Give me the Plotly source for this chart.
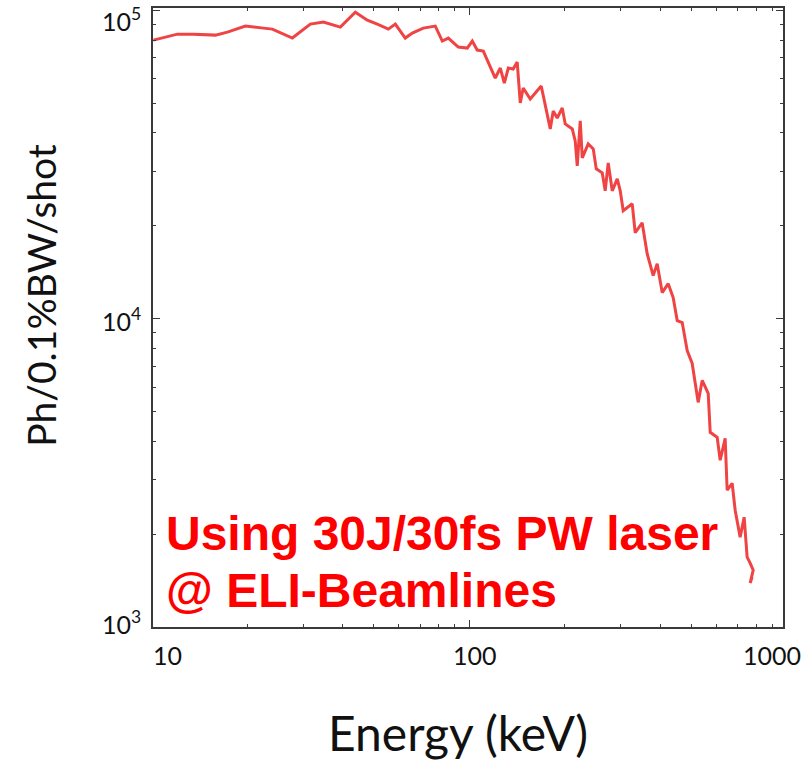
import math
import plotly.graph_objects as go

# Energy (keV) and photon number (Ph/0.1%BW/shot)
energy_kev = [10.15, 12.07, 13.56, 15.90, 17.34, 19.75, 22.50, 24.02, 27.76, 31.62,
              34.75, 39.30, 43.81, 47.78, 51.37, 55.64, 58.53, 62.90, 66.19, 71.65,
              78.18, 82.25, 85.90, 92.35, 98.56, 102.2, 105.9, 110.7, 120.7, 125.2,
              128.9, 132.7, 137.5, 141.5, 144.7, 147.8, 155.5, 168.4, 179.8, 183.7,
              189.1, 196.1, 200.4, 210.9, 215.4, 218.6, 223.4, 226.7, 236.7, 245.5,
              250.9, 262.0, 267.7, 273.6, 281.7, 292.1, 298.5, 305.0, 325.6, 332.7,
              349.9, 362.8, 379.0, 390.1, 404.5, 422.5, 438.0, 451.0, 467.6, 484.8,
              502.7, 525.0, 540.5, 564.5, 572.8, 602.5, 615.7, 638.3, 647.6, 671.5,
              686.3, 711.5, 732.4, 748.5, 765.0, 782.0, 765.0, 776.1]
photons = [79960, 83600, 83600, 83000, 84900, 88800, 87450, 86800, 81200, 90100,
           91460, 88100, 98500, 92800, 90100, 86800, 90100, 81200, 84250, 87450,
           88800, 79390, 81200, 75900, 75340, 79390, 74230, 73680, 60250, 64920,
           58050, 64920, 64440, 67880, 50000, 55930, 51520, 56750, 41200, 47110,
           44710, 48170, 42760, 41200, 37680, 31270, 43730, 33190, 36840, 35500,
           30580, 29690, 25960, 31980, 25960, 28390, 25960, 22360, 23560, 18980,
           20450, 16230, 13780, 15070, 12140, 12980, 11700, 9852, 9707, 7880,
           7153, 5349, 6301, 5720, 4277, 4121, 3472, 4090, 2776, 2924,
           2391, 1956, 2270, 1684, 1611, 1530, 1388, 1451]

x_tick_vals = [10, 100, 1000]
x_tick_text = ["10", "100", "1000"]
y_tick_vals = [1e3, 1e4, 1e5]
y_tick_text = ["10<sup>3</sup>", "10<sup>4</sup>", "10<sup>5</sup>"]

x_title = "Energy (keV)"
y_title = "Ph/0.1%BW/shot"
note_lines = ["Using 30J/30fs PW laser", "@ ELI-Beamlines"]

x_minor = [m * d for d in (10, 100) for m in range(2, 10)]
y_minor = [m * d for d in (1000, 10000) for m in range(2, 10)]

X_RANGE = [1.005, 2.987]
Y_RANGE = [3.0, 5.007]

fig = go.Figure()
fig.add_trace(go.Scatter(x=energy_kev, y=photons, mode="lines",
                         line=dict(color="#f04343", width=3),
                         showlegend=False, hoverinfo="skip"))

axis_common = dict(type="log", showgrid=False, zeroline=False,
                   showline=True, linecolor="#3a3a3a", linewidth=1.6,
                   mirror="allticks", ticks="inside", ticklen=7, tickwidth=1.2,
                   tickcolor="#3a3a3a", showticklabels=False)

fig.update_xaxes(**axis_common, range=X_RANGE, tickvals=x_tick_vals,
                 minor=dict(tickvals=x_minor, ticks="inside", ticklen=3.5,
                            tickwidth=1, tickcolor="#3a3a3a", showgrid=False))
fig.update_yaxes(**axis_common, range=Y_RANGE, tickvals=y_tick_vals,
                 minor=dict(tickvals=y_minor, ticks="inside", ticklen=3.5,
                            tickwidth=1, tickcolor="#3a3a3a", showgrid=False))


def xpaper(v):
    return (math.log10(v) - X_RANGE[0]) / (X_RANGE[1] - X_RANGE[0])


def ypaper(v):
    return (math.log10(v) - Y_RANGE[0]) / (Y_RANGE[1] - Y_RANGE[0])


tick_font = dict(family="Lato, sans-serif", size=25, color="#111111")
annotations = []
x_shifts = [16, 6, -15]
for v, t, s in zip(x_tick_vals, x_tick_text, x_shifts):
    annotations.append(dict(x=xpaper(v), y=0, xref="paper", yref="paper",
                            text=t, showarrow=False, xanchor="center",
                            yanchor="top", xshift=s, yshift=-11, font=tick_font))
y_shifts = [5, -1, -9]
for v, t, s in zip(y_tick_vals, y_tick_text, y_shifts):
    annotations.append(dict(x=0, y=ypaper(v), xref="paper", yref="paper",
                            text=t, showarrow=False, xanchor="right",
                            yanchor="middle", xshift=-10, yshift=s, font=tick_font))

annotations.append(dict(x=0.484, y=-0.17, xref="paper", yref="paper",
                        text=x_title, showarrow=False, xanchor="center",
                        yanchor="middle",
                        font=dict(family="Lato, sans-serif", size=48, color="#111111")))
annotations.append(dict(x=-0.178, y=0.535, xref="paper", yref="paper",
                        text=y_title, showarrow=False, xanchor="center",
                        yanchor="middle", textangle=-90,
                        font=dict(family="Lato, sans-serif", size=39, color="#111111")))

note_font = dict(family="Liberation Sans, Arial, sans-serif", size=48, color="#ff0000")
for line, yp in zip(note_lines, [0.151, 0.059]):
    annotations.append(dict(x=0.018, y=yp, xref="paper", yref="paper",
                            text="<b>" + line + "</b>", showarrow=False,
                            xanchor="left", yanchor="middle", font=note_font))

fig.update_layout(width=811, height=763, autosize=False,
                  margin=dict(l=153, r=28, t=6, b=136),
                  paper_bgcolor="white", plot_bgcolor="white",
                  annotations=annotations)

fig.write_html("out.html", config={"displayModeBar": False},
               post_script="document.body.style.margin='0';document.body.style.padding='0';")
